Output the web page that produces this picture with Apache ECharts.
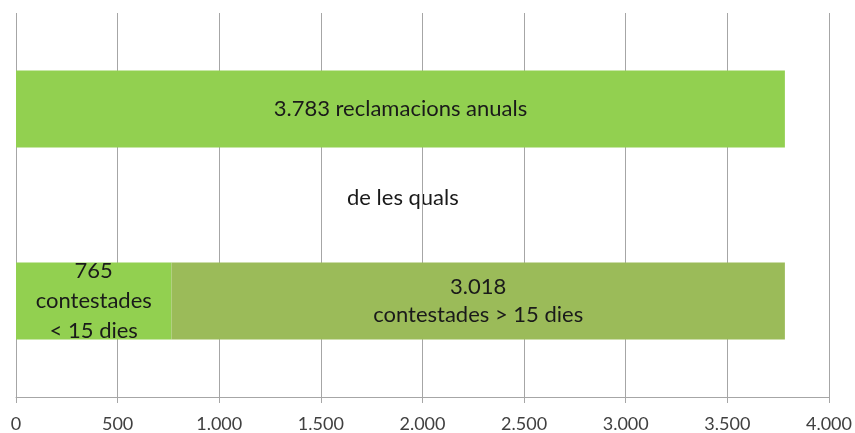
<!DOCTYPE html>
<html>
<head>
<meta charset="utf-8">
<script src="https://cdn.jsdelivr.net/npm/echarts@6/dist/echarts.min.js"></script>
<style>
  html, body { margin: 0; padding: 0; background: #fff; }
  #chart { width: 855px; height: 433px; }
</style>
</head>
<body>
<div id="chart"></div>
<script>
// dades del gràfic
var categories = ['anuals', 'contestades'];
var totalAnual = [3783, '-'];
var menys15 = ['-', 765];
var mes15 = ['-', 3018];
var xTicks = { min: 0, max: 4000, interval: 500 };

function fmt(n) {
  // separador de milers amb punt
  return String(n).replace(/\B(?=(\d{3})+(?!\d))/g, '.');
}

var font = 'Lato, "Open Sans", sans-serif';
var chart = echarts.init(document.getElementById('chart'));

chart.setOption({
  animation: false,
  grid: { left: 16, right: 26, top: 13, bottom: 36 },
  xAxis: {
    type: 'value',
    min: xTicks.min,
    max: xTicks.max,
    interval: xTicks.interval,
    axisLine: { show: true, lineStyle: { color: '#a6a6a6', width: 1 } },
    axisTick: { show: true, length: 6, lineStyle: { color: '#a6a6a6' } },
    splitLine: { show: true, lineStyle: { color: '#a6a6a6', width: 1 } },
    axisLabel: {
      color: '#404040', fontFamily: font, fontSize: 18, margin: 18,
      formatter: function (v) { return fmt(v); }
    }
  },
  yAxis: {
    type: 'category',
    data: categories,
    inverse: true,
    axisLine: { show: false },
    axisTick: { show: false },
    axisLabel: { show: false }
  },
  series: [
    {
      name: 'reclamacions anuals',
      type: 'bar',
      stack: 'a',
      barWidth: '40%',
      data: totalAnual,
      itemStyle: { color: '#92D050' },
      label: {
        show: true, position: 'inside', color: '#1a1a1a',
        fontFamily: font, fontSize: 22,
        formatter: function (p) { return fmt(p.value) + ' reclamacions anuals'; }
      }
    },
    {
      name: 'contestades < 15 dies',
      type: 'bar',
      stack: 'a',
      data: menys15,
      itemStyle: { color: '#92D050' },
      label: {
        show: true, position: 'inside', color: '#1a1a1a',
        fontFamily: font, fontSize: 22, lineHeight: 30,
        formatter: function (p) { return fmt(p.value) + '\ncontestades\n< 15 dies'; }
      }
    },
    {
      name: 'contestades > 15 dies',
      type: 'bar',
      stack: 'a',
      data: mes15,
      itemStyle: { color: '#9BBB59' },
      label: {
        show: true, position: 'inside', color: '#1a1a1a',
        fontFamily: font, fontSize: 22, lineHeight: 28,
        formatter: function (p) { return fmt(p.value) + '\ncontestades > 15 dies'; }
      }
    }
  ],
  graphic: [{
    type: 'text',
    left: 347,
    top: 187,
    style: { text: 'de les quals', fill: '#1a1a1a', font: '22px ' + font }
  }]
});
</script>
</body>
</html>
